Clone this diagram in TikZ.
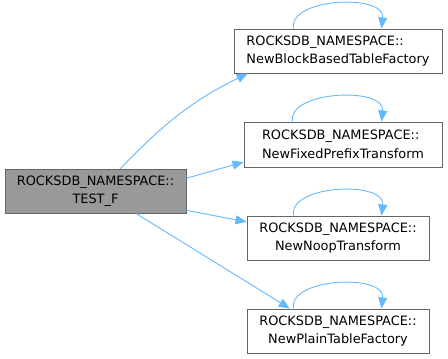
\documentclass[tikz,border=0pt]{standalone}
\usepackage{fontspec}
\setmainfont{DejaVu Sans}
\usetikzlibrary{arrows.meta,calc}
\definecolor{edgeblue}{HTML}{63B8FF}
\definecolor{boxline}{HTML}{666666}
\definecolor{curfill}{HTML}{999999}
\begin{document}
\begin{tikzpicture}[x=1pt,y=-1pt,
  fn/.style={draw=boxline,line width=1pt,fill=white,inner sep=0pt,
    minimum height=44pt,font=\fontsize{12.9}{18.5}\selectfont},
  current/.style={fn,fill=curfill},
  call/.style={draw=edgeblue,line width=0.9pt,
    -{Triangle[length=11pt,width=9pt]}}]
\useasboundingbox (0,0) rectangle (448,359);

% function boxes
\node[current,minimum width=181pt,align=center] (test) at (95.5,191)
  {ROCKSDB\_NAMESPACE::\\TEST\_F};
\node[fn,minimum width=208pt,align=left] (block) at (338,51)
  {ROCKSDB\_NAMESPACE::\\NewBlockBasedTableFactory};
\node[fn,minimum width=198pt,minimum height=45pt,align=left] (fixed) at (343,144.5)
  {ROCKSDB\_NAMESPACE::\\NewFixedPrefixTransform};
\node[fn,minimum width=182pt,align=center] (noop) at (338,238)
  {ROCKSDB\_NAMESPACE::\\NewNoopTransform};
\node[fn,minimum width=182pt,align=center] (plain) at (338,331)
  {ROCKSDB\_NAMESPACE::\\NewPlainTableFactory};

% calls from TEST_F
\draw[call] (test.42) to[out=46,in=206] (block.194.6);
\draw[call] (test.8.8) -- (fixed.190.6);
\draw[call] (test.348.8) -- (noop.170);
\draw[call] (test.331) -- (plain.155.4);

% recursive calls
\foreach \n/\a/\b in {block/60/148, fixed/49/138, noop/47/135, plain/47/135}{
  \draw[call] ($(\n.north west)+(\a,0)$)
    .. controls ($(\n.north west)+(\a-5,-31)$) and ($(\n.north west)+(\b+4,-35)$)
    .. ($(\n.north west)+(\b,0)$);
}
\end{tikzpicture}
\end{document}
